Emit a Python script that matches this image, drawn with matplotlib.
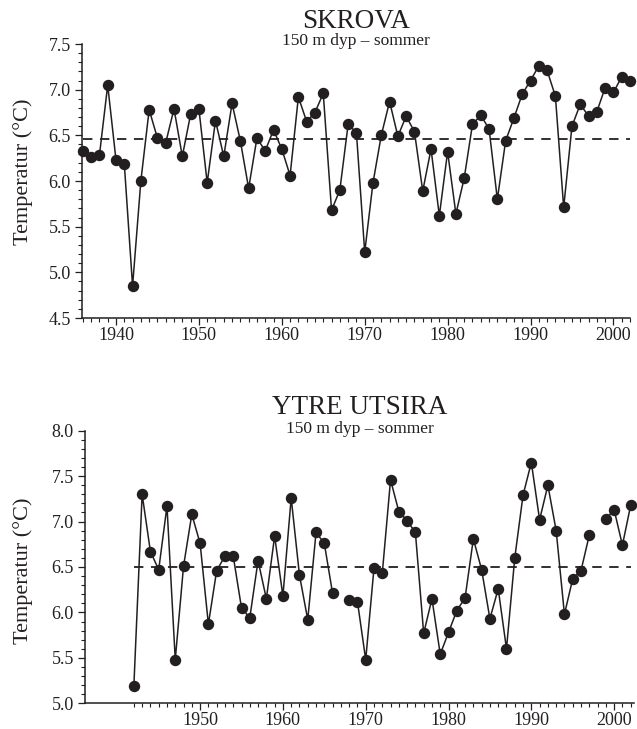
# Sommer temperatur 150 m dyp - Skrova og Ytre Utsira
import matplotlib
matplotlib.use('Agg')
import matplotlib.pyplot as plt
from matplotlib.ticker import MultipleLocator, FixedLocator, FormatStrFormatter
import numpy as np

plt.rcParams['font.family'] = ['Liberation Serif', 'DejaVu Serif']

INK = '#231f20'

# Skrova, 1936-2002
skrova_years = list(range(1936, 2003))
skrova_temp = [6.33, 6.26, 6.28, 7.05, 6.23, 6.19, 4.85, 6.00, 6.78, 6.47,
               6.42, 6.79, 6.27, 6.73, 6.79, 5.98, 6.66, 6.27, 6.85, 6.44,
               5.92, 6.47, 6.33, 6.56, 6.35, 6.06, 6.92, 6.65, 6.75, 6.96,
               5.68, 5.90, 6.62, 6.53, 5.22, 5.98, 6.50, 6.87, 6.49, 6.71,
               6.54, 5.89, 6.35, 5.62, 6.32, 5.64, 6.03, 6.62, 6.72, 6.57,
               5.80, 6.44, 6.69, 6.95, 7.10, 7.26, 7.21, 6.93, 5.71, 6.60,
               6.84, 6.71, 6.76, 7.02, 6.97, 7.14, 7.10]
skrova_mean = 6.46

# Ytre Utsira, 1942-2002 (no data 1967 and 1998)
utsira_years = list(range(1942, 2003))
utsira_temp = [5.19, 7.30, 6.67, 6.47, 7.17, 5.48, 6.51, 7.08, 6.76, 5.87,
               6.46, 6.62, 6.62, 6.05, 5.94, 6.57, 6.15, 6.84, 6.18, 7.26,
               6.41, 5.92, 6.88, 6.76, 6.21, np.nan, 6.14, 6.12, 5.48, 6.49,
               6.43, 7.46, 7.11, 7.01, 6.88, 5.77, 6.15, 5.54, 5.78, 6.02,
               6.16, 6.81, 6.47, 5.93, 6.26, 5.60, 6.60, 7.29, 7.65, 7.02,
               7.40, 6.90, 5.98, 6.37, 6.46, 6.85, np.nan, 7.03, 7.13, 6.74,
               7.18]
utsira_mean = 6.50

subtitle = '150 m dyp \u2013 sommer'
ylabel = 'Temperatur (\u00b0C)'


def draw_panel(ax, years, temp, mean, title, xlim, ylim, major_years, minor_years,
               ylab_xy, title_y, sub_y):
    # dashed mean line under the series
    ax.plot([years[0], years[-1]], [mean, mean], color=INK, lw=1.3,
            linestyle=(0, (5.2, 4.2)), zorder=1)
    ax.plot(years, temp, color=INK, lw=1.1, marker='o', markersize=7.2,
            markerfacecolor=INK, markeredgecolor=INK, zorder=3, clip_on=False)

    ax.set_xlim(*xlim)
    ax.set_ylim(*ylim)
    for s in ['top', 'right']:
        ax.spines[s].set_visible(False)
    for s in ['left', 'bottom']:
        ax.spines[s].set_linewidth(1.1)
        ax.spines[s].set_color(INK)

    ax.xaxis.set_major_locator(FixedLocator(major_years))
    ax.xaxis.set_minor_locator(FixedLocator(minor_years))
    ax.yaxis.set_major_locator(MultipleLocator(0.5))
    ax.yaxis.set_minor_locator(MultipleLocator(0.1))
    ax.yaxis.set_major_formatter(FormatStrFormatter('%.1f'))

    ax.tick_params(which='major', direction='out', length=5, width=0.9,
                   colors=INK, labelsize=13)
    ax.tick_params(which='minor', direction='out', length=2.6, width=0.8,
                   colors=INK)
    ax.tick_params(axis='x', which='major', pad=1.5)
    ax.tick_params(axis='y', which='major', pad=3)

    ax.set_ylabel(ylabel, fontsize=16, color=INK)
    ax.yaxis.set_label_coords(*ylab_xy)

    ax.text(0.5, title_y, title, transform=ax.transAxes, ha='center',
            va='baseline', fontsize=19.5, color=INK)
    ax.text(0.5, sub_y, subtitle, transform=ax.transAxes, ha='center',
            va='baseline', fontsize=12.5, color=INK)


fig = plt.figure(figsize=(6.37, 7.29), dpi=100)

ax1 = fig.add_axes([82 / 637, 1 - 318 / 729, 548 / 637, 274 / 729])
draw_panel(ax1, skrova_years, skrova_temp, skrova_mean, 'SKROVA',
           (1935.9, 2002.0), (4.5, 7.5),
           list(range(1940, 2001, 10)), list(range(1936, 2003)),
           (-0.089, 0.533), 1.06, 0.996)

ax2 = fig.add_axes([85 / 637, 1 - 703.3 / 729, 549 / 637, 272.6 / 729])
draw_panel(ax2, utsira_years, utsira_temp, utsira_mean, 'YTRE UTSIRA',
           (1936.1, 2002.4), (5.0, 8.0),
           list(range(1950, 2001, 10)), list(range(1942, 2003)),
           (-0.095, 0.485), 1.062, 0.993)

fig.savefig('out.png', dpi=100)
